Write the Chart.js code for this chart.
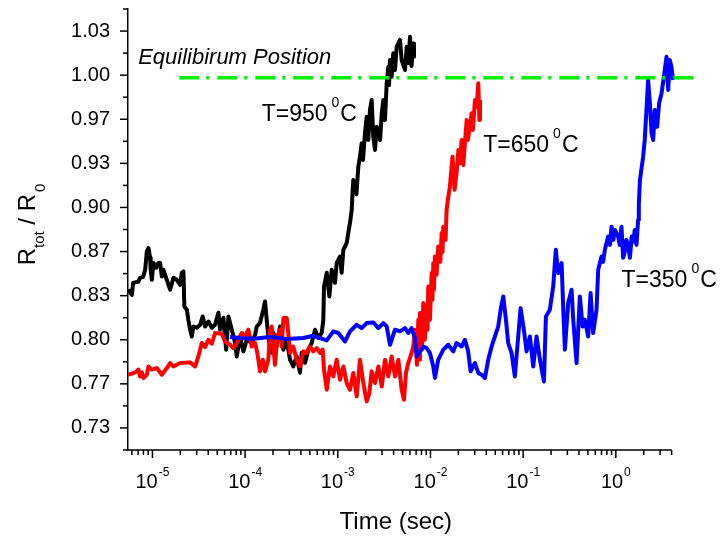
<!DOCTYPE html>
<html>
<head>
<meta charset="utf-8">
<script src="https://cdn.jsdelivr.net/npm/chart.js@4.4.1/dist/chart.umd.min.js"></script>
<style>
  html, body { margin: 0; padding: 0; background: #ffffff; }
  canvas { display: block; }
</style>
</head>
<body>
<canvas id="c" width="720" height="540"></canvas>
<script>
// ---------------- data ----------------
// T = 950 C  (black)
const time950 = [
  5.47e-6, 6.0e-6, 6.19e-6, 7.01e-6, 7.36e-6, 7.94e-6, 8.35e-6, 8.7e-6, 9.06e-6, 9.44e-6,
  9.57e-6, 9.86e-6, 1.026e-5, 1.096e-5, 1.161e-5, 1.211e-5, 1.263e-5, 1.315e-5, 1.43e-5, 1.552e-5,
  1.684e-5, 1.832e-5, 1.99e-5, 2.075e-5, 2.16e-5, 2.21e-5, 2.35e-5, 2.44e-5, 2.55e-5, 2.66e-5,
  2.77e-5, 3.01e-5, 3.27e-5, 3.49e-5, 3.70e-5, 4.02e-5, 4.37e-5, 4.74e-5, 5.15e-5, 5.37e-5,
  5.83e-5, 6.24e-5, 6.61e-5, 7.18e-5, 7.80e-5, 8.13e-5, 8.83e-5, 9.58e-5, 1.042e-4, 1.18e-4,
  1.28e-4, 1.336e-4, 1.45e-4, 1.57e-4, 1.64e-4, 1.71e-4, 1.78e-4, 1.86e-4, 1.94e-4, 2.02e-4,
  2.19e-4, 2.38e-4, 2.59e-4, 2.81e-4, 3.05e-4, 3.31e-4, 3.60e-4, 3.91e-4, 4.08e-4, 4.43e-4,
  4.81e-4, 5.24e-4, 5.68e-4, 6.17e-4, 6.71e-4, 6.98e-4, 7.10e-4, 7.60e-4, 8.11e-4, 8.60e-4,
  9.33e-4, 9.73e-4, 1.057e-3, 1.10e-3, 1.148e-3, 1.248e-3, 1.298e-3, 1.354e-3, 1.413e-3, 1.442e-3,
  1.47e-3, 1.534e-3, 1.59e-3, 1.665e-3, 1.736e-3, 1.81e-3, 1.87e-3, 1.965e-3, 2.05e-3, 2.135e-3,
  2.225e-3, 2.32e-3, 2.415e-3, 2.52e-3, 2.63e-3, 2.74e-3, 2.86e-3, 2.98e-3, 3.10e-3, 3.23e-3,
  3.37e-3, 3.51e-3, 3.57e-3, 3.66e-3, 3.81e-3, 3.97e-3, 4.14e-3, 4.32e-3, 4.69e-3, 4.89e-3,
  5.31e-3, 5.54e-3, 5.78e-3, 6.01e-3, 6.24e-3, 6.52e-3, 6.64e-3
];
const ratio950 = [
  0.8378, 0.8340, 0.8430, 0.8438, 0.8468, 0.8476, 0.8529, 0.8667, 0.8692, 0.8619,
  0.8529, 0.8453, 0.8581, 0.8544, 0.8581, 0.8581, 0.8478, 0.8529, 0.8453, 0.8378,
  0.8468, 0.8453, 0.8415, 0.8506, 0.8516, 0.8251, 0.8227, 0.8151, 0.8076, 0.8025,
  0.8100, 0.8091, 0.8113, 0.8176, 0.8100, 0.8138, 0.8091, 0.8113, 0.8204, 0.8076,
  0.8166, 0.7925, 0.8176, 0.8076, 0.7977, 0.7874, 0.8025, 0.7912, 0.8000, 0.7977,
  0.8038, 0.8100, 0.8128, 0.8227, 0.8289, 0.8151, 0.8025, 0.7949, 0.7902, 0.8053,
  0.7949, 0.8100, 0.7925, 0.8000, 0.7849, 0.7798, 0.7874, 0.7751, 0.7902, 0.7826,
  0.7925, 0.7977, 0.8076, 0.8013, 0.8053, 0.8151, 0.8402, 0.8506, 0.8327, 0.8529,
  0.8431, 0.8581, 0.8629, 0.8506, 0.8679, 0.8732, 0.8808, 0.8883, 0.8982, 0.9110,
  0.9208, 0.9157, 0.9100, 0.9309, 0.9384, 0.9485, 0.9359, 0.9561, 0.9686, 0.9510,
  0.9737, 0.9812, 0.9535, 0.9435, 0.9610, 0.9561, 0.9510, 0.9712, 0.9812, 0.9661,
  0.9938, 1.0063, 0.9925, 1.0114, 0.9988, 1.0165, 1.0039, 1.0214, 1.0266, 1.0114,
  1.0039, 1.0214, 1.0091, 1.0290, 1.0069, 1.0240, 1.0139
];

// T = 650 C  (red)
const time650 = [
  5.47e-6, 6.0e-6, 6.50e-6, 7.06e-6, 7.36e-6, 7.68e-6, 8.0e-6, 8.71e-6, 9.06e-6, 9.86e-6,
  1.115e-5, 1.263e-5, 1.43e-5, 1.552e-5, 1.684e-5, 1.99e-5, 2.55e-5, 2.89e-5, 3.13e-5, 3.41e-5,
  3.70e-5, 4.02e-5, 4.37e-5, 4.74e-5, 5.60e-5, 6.08e-5, 6.88e-5, 7.47e-5, 8.13e-5, 9.20e-5,
  1.0e-4, 1.084e-4, 1.18e-4, 1.28e-4, 1.356e-4, 1.45e-4, 1.55e-4, 1.64e-4, 1.78e-4, 1.86e-4,
  1.94e-4, 2.02e-4, 2.10e-4, 2.23e-4, 2.38e-4, 2.48e-4, 2.59e-4, 2.81e-4, 2.92e-4, 3.05e-4,
  3.31e-4, 3.60e-4, 3.91e-4, 4.25e-4, 4.62e-4, 5.01e-4, 5.44e-4, 5.93e-4, 6.43e-4, 6.87e-4,
  7.10e-4, 7.60e-4, 8.24e-4, 8.95e-4, 9.73e-4, 1.057e-3, 1.148e-3, 1.248e-3, 1.354e-3, 1.47e-3,
  1.60e-3, 1.736e-3, 1.885e-3, 2.05e-3, 2.19e-3, 2.32e-3, 2.52e-3, 2.74e-3, 2.98e-3, 3.23e-3,
  3.51e-3, 3.81e-3, 4.14e-3, 4.50e-3, 4.89e-3, 5.18e-3, 5.44e-3, 5.75e-3, 6.26e-3, 6.52e-3,
  6.80e-3, 7.15e-3, 7.39e-3, 7.55e-3, 7.70e-3, 8.09e-3, 8.36e-3, 8.69e-3, 9.09e-3, 9.29e-3,
  9.46e-3, 9.87e-3, 1.03e-2, 1.05e-2, 1.072e-2, 1.09e-2, 1.117e-2, 1.163e-2, 1.213e-2, 1.277e-2,
  1.32e-2, 1.348e-2, 1.375e-2, 1.455e-2, 1.494e-2, 1.54e-2, 1.62e-2, 1.73e-2, 1.82e-2, 1.91e-2,
  2.00e-2, 2.08e-2, 2.17e-2, 2.26e-2, 2.35e-2, 2.46e-2, 2.53e-2, 2.67e-2, 2.78e-2, 2.87e-2,
  3.02e-2, 3.15e-2, 3.28e-2, 3.37e-2, 3.42e-2
];
const ratio650 = [
  0.7736, 0.7743, 0.7753, 0.7774, 0.7723, 0.7753, 0.7711, 0.7736, 0.7798, 0.7774,
  0.7786, 0.7736, 0.7786, 0.7824, 0.7798, 0.7824, 0.7829, 0.7798, 0.7874, 0.7975,
  0.7945, 0.8000, 0.7970, 0.8051, 0.8045, 0.7987, 0.7962, 0.7937, 0.7975, 0.8051,
  0.8025, 0.8076, 0.7949, 0.7975, 0.7900, 0.7761, 0.7849, 0.7761, 0.7849, 0.8076,
  0.8100, 0.7949, 0.7811, 0.8025, 0.8076, 0.7949, 0.8164, 0.8164, 0.8051, 0.7900,
  0.7949, 0.7849, 0.7798, 0.7912, 0.7900, 0.7949, 0.7912, 0.7937, 0.7900, 0.7925,
  0.7774, 0.7622, 0.7798, 0.7723, 0.7849, 0.7698, 0.7798, 0.7673, 0.7622, 0.7749,
  0.7572, 0.7849, 0.7673, 0.7534, 0.7598, 0.7761, 0.7673, 0.7798, 0.7647, 0.7849,
  0.7723, 0.7874, 0.7723, 0.7849, 0.7622, 0.7547, 0.7749, 0.7824, 0.7900, 0.7949,
  0.8076, 0.7811, 0.8151, 0.7849, 0.8202, 0.7925, 0.8277, 0.8000, 0.8264, 0.8076,
  0.8402, 0.8151, 0.8504, 0.8302, 0.8579, 0.8378, 0.8629, 0.8491, 0.8704, 0.8589,
  0.8806, 0.8664, 0.8855, 0.8755, 0.8982, 0.9057, 0.9157, 0.9384, 0.9133, 0.9258,
  0.9435, 0.9334, 0.9510, 0.9321, 0.9485, 0.9661, 0.9510, 0.9610, 0.9712, 0.9586,
  0.9812, 0.9761, 0.9938, 0.9661, 0.9812
];

// T = 350 C  (blue)
const time350 = [
  6.88e-5, 8.83e-5, 1.228e-4, 1.86e-4, 2.81e-4, 4.25e-4, 5.44e-4, 6.43e-4, 7.60e-4, 8.95e-4,
  1.014e-3, 1.197e-3, 1.354e-3, 1.60e-3, 1.81e-3, 2.05e-3, 2.415e-3, 2.74e-3, 3.10e-3, 3.37e-3,
  3.66e-3, 4.14e-3, 4.69e-3, 5.31e-3, 5.75e-3, 6.26e-3, 6.80e-3, 7.10e-3, 7.70e-3, 8.36e-3,
  9.09e-3, 9.87e-3, 1.072e-2, 1.117e-2, 1.213e-2, 1.375e-2, 1.555e-2, 1.76e-2, 1.91e-2, 2.17e-2,
  2.35e-2, 2.55e-2, 2.71e-2, 3.02e-2, 3.28e-2, 3.56e-2, 3.87e-2, 4.20e-2, 4.57e-2, 4.96e-2,
  5.38e-2, 5.75e-2, 6.10e-2, 6.52e-2, 6.90e-2, 7.50e-2, 8.14e-2, 8.85e-2, 9.38e-2, 1.018e-1,
  1.089e-1, 1.183e-1, 1.284e-1, 1.396e-1, 1.517e-1, 1.676e-1, 1.76e-1, 1.94e-1, 2.11e-1, 2.25e-1,
  2.39e-1, 2.60e-1, 2.71e-1, 2.82e-1, 3.06e-1, 3.33e-1, 3.47e-1, 3.77e-1, 4.09e-1, 4.38e-1,
  4.63e-1, 5.03e-1, 5.34e-1, 5.69e-1, 6.19e-1, 6.45e-1, 7.01e-1, 7.30e-1, 7.61e-1, 8.26e-1,
  8.62e-1, 8.99e-1, 9.40e-1, 9.76e-1, 1.06, 1.10, 1.15, 1.20, 1.25, 1.30,
  1.36, 1.42, 1.48, 1.54, 1.60, 1.67, 1.74, 1.77, 1.82, 1.97,
  2.05, 2.14, 2.23, 2.33, 2.43, 2.53, 2.63, 2.79, 2.93, 3.11,
  3.30, 3.52, 3.67, 3.82, 3.98, 4.15
];
const ratio350 = [
  0.8020, 0.8013, 0.8008, 0.8020, 0.8005, 0.8013, 0.8030, 0.8013, 0.7995, 0.8063,
  0.8051, 0.7987, 0.8063, 0.8113, 0.8088, 0.8126, 0.8131, 0.8088, 0.8126, 0.8100,
  0.7962, 0.8076, 0.8063, 0.8088, 0.8051, 0.8088, 0.8013, 0.7874, 0.7912, 0.7949,
  0.7937, 0.7900, 0.7798, 0.7711, 0.7849, 0.7925, 0.7962, 0.7912, 0.7975, 0.7949,
  0.8000, 0.7912, 0.7761, 0.7824, 0.7749, 0.7736, 0.7711, 0.7849, 0.7949, 0.8025,
  0.8100, 0.8239, 0.8327, 0.8151, 0.7975, 0.7900, 0.7723, 0.8025, 0.8239, 0.8076,
  0.7912, 0.8025, 0.7798, 0.8025, 0.7849, 0.7685, 0.8176, 0.8227, 0.8402, 0.8680,
  0.8504, 0.8579, 0.8227, 0.7925, 0.8277, 0.8378, 0.8151, 0.7824, 0.8327, 0.8100,
  0.8151, 0.8025, 0.8353, 0.8051, 0.8227, 0.8529, 0.8629, 0.8589, 0.8680, 0.8780,
  0.8717, 0.8855, 0.8755, 0.8830, 0.8780, 0.8717, 0.8855, 0.8619, 0.8667, 0.8755,
  0.8704, 0.8619, 0.8780, 0.8740, 0.8830, 0.8717, 0.8906, 0.9019, 0.9208, 0.9384,
  0.9510, 0.9737, 0.9963, 0.9787, 0.9561, 0.9510, 0.9737, 0.9610, 0.9787, 0.9862,
  0.9988, 1.0139, 0.9888, 1.0114, 1.0063, 0.9963
];

// Equilibrium position (green dash-dot line)
const equilTime = [1.95e-5, 7.6];
const equilRatio = [0.998, 0.998];

// axis ranges and tick labels
const xMin = 5.45e-6, xMax = 7.7, xAxisEnd = 4;
const xMajorValues = [1e-5, 1e-4, 1e-3, 1e-2, 1e-1, 1];
const xMajorExponents = ['-5', '-4', '-3', '-2', '-1', '0'];
const yMin = 43 / 60, yMax = 63 / 60;
const yTickValues = [44/60, 46/60, 48/60, 50/60, 52/60, 54/60, 56/60, 58/60, 60/60, 62/60];
const yTickLabels = ['0.73', '0.77', '0.80', '0.83', '0.87', '0.90', '0.93', '0.97', '1.00', '1.03'];

// annotation texts and their anchors (data coordinates)
const seriesLabels = ['T=950', 'T=650', 'T=350'];
const seriesLabelTime = [1.51e-4, 3.71e-2, 1.152];
const seriesLabelRatio = [0.9656, 0.9422, 0.8402];
const equilLabel = 'Equilibirum Position';
const equilLabelTime = 7.01e-6, equilLabelRatio = 1.0084;

// ---------------- chart ----------------
const FONT = '"Liberation Sans", Arial, Helvetica, sans-serif';
const pts = (xs, ys) => xs.map((x, i) => ({ x: x, y: ys[i] }));

const extrasPlugin = {
  id: 'extras',
  afterDraw(chart) {
    const ctx = chart.ctx;
    const a = chart.chartArea;
    const xs = chart.scales.x, ys = chart.scales.y;
    ctx.save();
    ctx.strokeStyle = '#000';
    ctx.fillStyle = '#000';
    ctx.lineWidth = 1.5;
    ctx.lineCap = 'butt';

    // x axis line (ends at xAxisEnd)
    const xEnd = xs.getPixelForValue(xAxisEnd);
    ctx.beginPath();
    ctx.moveTo(a.left - 0.75, a.bottom);
    ctx.lineTo(xEnd, a.bottom);
    ctx.stroke();

    // x ticks (major + minor)
    for (let d = -6; d <= 0; d++) {
      for (let m = 1; m <= 9; m++) {
        const v = m * Math.pow(10, d);
        if (v < xMin * 1.0001 || v > xAxisEnd * 1.0001) continue;
        const px = xs.getPixelForValue(v);
        const len = (m === 1) ? 8 : 5;
        ctx.beginPath();
        ctx.moveTo(px, a.bottom);
        ctx.lineTo(px, a.bottom + len);
        ctx.stroke();
      }
    }
    // y ticks (major at k even, minor at k odd) k/60
    for (let k = 43; k <= 63; k++) {
      const py = ys.getPixelForValue(k / 60);
      const len = (k % 2 === 0) ? 8 : 5;
      ctx.beginPath();
      ctx.moveTo(a.left - len, py);
      ctx.lineTo(a.left, py);
      ctx.stroke();
    }

    // x tick labels with superscript exponents
    ctx.textBaseline = 'alphabetic';
    ctx.textAlign = 'left';
    xMajorValues.forEach((v, i) => {
      const px = xs.getPixelForValue(v);
      ctx.font = '20px ' + FONT;
      const w1 = ctx.measureText('10').width;
      ctx.font = '12px ' + FONT;
      const w2 = ctx.measureText(xMajorExponents[i]).width;
      const sx = px - (w1 + 1 + w2) / 2;
      ctx.font = '20px ' + FONT;
      ctx.fillText('10', sx, a.bottom + 38);
      ctx.font = '12px ' + FONT;
      ctx.fillText(xMajorExponents[i], sx + w1 + 1, a.bottom + 26);
    });

    // x axis title
    ctx.font = '24px ' + FONT;
    ctx.textAlign = 'center';
    ctx.fillText('Time (sec)', (a.left + xEnd) / 2 - 4, a.bottom + 79);

    // y axis title: R_tot / R_0 (rotated)
    ctx.save();
    const cy = (a.top + a.bottom) / 2 - 5;
    ctx.translate(a.left - 93, cy);
    ctx.rotate(-Math.PI / 2);
    ctx.textAlign = 'left';
    const parts = [
      { t: 'R', s: 24, dy: 0 },
      { t: 'tot', s: 15, dy: 9 },
      { t: ' / R', s: 24, dy: 0 },
      { t: '0', s: 15, dy: 10, gap: 2 }
    ];
    let total = 0;
    parts.forEach(p => { ctx.font = p.s + 'px ' + FONT; p.w = ctx.measureText(p.t).width; total += p.w + (p.gap || 0); });
    let cx = -total / 2;
    parts.forEach(p => {
      cx += (p.gap || 0);
      ctx.font = p.s + 'px ' + FONT;
      ctx.fillText(p.t, cx, p.dy);
      cx += p.w;
    });
    ctx.restore();

    // series labels  T=xxx 0C
    ctx.textAlign = 'left';
    seriesLabels.forEach((txt, i) => {
      const px = xs.getPixelForValue(seriesLabelTime[i]);
      const py = ys.getPixelForValue(seriesLabelRatio[i]);
      ctx.font = '23px ' + FONT;
      const w = ctx.measureText(txt).width;
      ctx.fillText(txt, px, py);
      ctx.font = '14px ' + FONT;
      const ws = ctx.measureText('0').width;
      ctx.fillText('0', px + w + 4, py - 13.5);
      ctx.font = '23px ' + FONT;
      ctx.fillText('C', px + w + 4 + ws + 1, py);
    });

    // equilibrium label
    ctx.font = 'italic 22px ' + FONT;
    ctx.fillText(equilLabel, xs.getPixelForValue(equilLabelTime), ys.getPixelForValue(equilLabelRatio));

    ctx.restore();
  }
};

const common = { pointRadius: 0, pointHoverRadius: 0, borderWidth: 4, tension: 0, fill: false, borderJoinStyle: 'round' };

new Chart(document.getElementById('c'), {
  type: 'line',
  data: {
    datasets: [
      Object.assign({ label: 'Equilibrium', data: pts(equilTime, equilRatio), borderColor: '#00f000', borderDash: [20, 7, 3, 8] }, common, { borderJoinStyle: 'miter', borderWidth: 3.5 }),
      Object.assign({ label: 'T=350', data: pts(time350, ratio350), borderColor: '#0000ff' }, common),
      Object.assign({ label: 'T=650', data: pts(time650, ratio650), borderColor: '#ff0000' }, common),
      Object.assign({ label: 'T=950', data: pts(time950, ratio950), borderColor: '#000000' }, common)
    ]
  },
  options: {
    responsive: false,
    animation: false,
    events: [],
    layout: { padding: { top: 9, right: 22, left: 0, bottom: 0 } },
    plugins: { legend: { display: false }, tooltip: { enabled: false }, title: { display: false } },
    scales: {
      x: {
        type: 'logarithmic',
        min: xMin,
        max: xMax,
        grid: { display: false },
        border: { display: false },
        ticks: { display: false },
        afterFit(s) { s.height = 90; s.paddingLeft = 0; s.paddingRight = 0; }
      },
      y: {
        type: 'linear',
        min: yMin,
        max: yMax,
        afterBuildTicks(s) { s.ticks = yTickValues.map(v => ({ value: v })); },
        ticks: {
          autoSkip: false,
          callback: (v, i) => yTickLabels[i],
          font: { family: FONT, size: 20 },
          color: '#000',
          padding: 18
        },
        grid: { display: true, drawOnChartArea: false, drawTicks: false },
        border: { display: true, color: '#000', width: 1.5 },
        afterFit(s) { s.width = 128; s.paddingTop = 0; s.paddingBottom = 0; }
      }
    }
  },
  plugins: [extrasPlugin]
});
</script>
</body>
</html>
